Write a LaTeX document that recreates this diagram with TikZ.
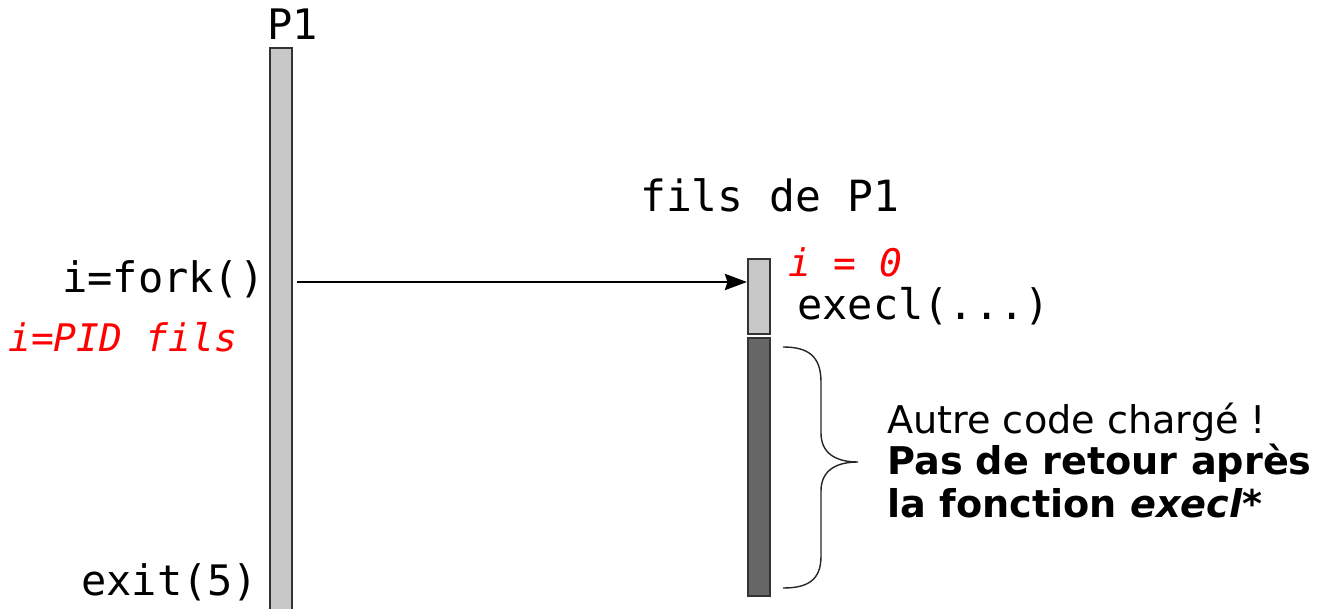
\documentclass[tikz,border=0pt]{standalone}
\usepackage{fontspec}
\setmainfont{DejaVu Sans}
\newfontfamily\monof{DejaVu Sans Mono}
\usetikzlibrary{arrows.meta}
\definecolor{lightbar}{HTML}{C8C8C8}
\definecolor{darkbar}{HTML}{666666}
\definecolor{barline}{HTML}{333333}
\definecolor{redtxt}{HTML}{FF0000}
\tikzset{
  bar/.style={draw=barline, line width=1.8pt, inner sep=0pt, anchor=north west, minimum width=22pt},
  lbar/.style={bar, fill=lightbar},
  dbar/.style={bar, fill=darkbar},
  mono/.style={font=\monof\fontsize{42}{46}\selectfont, inner sep=0pt, anchor=base west},
  redmono/.style={font=\monof\itshape\fontsize{38}{42}\selectfont, text=redtxt, inner sep=0pt, anchor=base west},
  note/.style={font=\fontsize{38.2}{40}\selectfont, inner sep=0pt, anchor=base west, align=left},
  boldnote/.style={note, font=\bfseries\fontsize{38.2}{40}\selectfont},
  arrowline/.style={line width=2.8pt, arrows={-Stealth[length=22pt,width=16pt,inset=2.5pt]}},
  bracel/.style={line width=1.4pt, draw=black!85}
}
\begin{document}
\begin{tikzpicture}[x=1pt,y=-1pt]
\useasboundingbox (0,0) rectangle (1328,609);
% bars
\node[lbar, minimum height=568pt] (p1bar) at (269,47) {};
\node[lbar, minimum height=75pt] (cbar) at (747,258) {};
\node[dbar, minimum height=258pt] (dbar) at (747,337) {};
% labels
\node[mono] (p1lbl) at (267,40) {P1};
\node[mono] (fork) at (62,293) {i=fork()};
\node[redmono] (pid) at (8,352) {i=PID fils};
\node[mono] (exit) at (81,595) {exit(5)};
\node[mono, font=\monof\fontsize{43}{46}\selectfont] (fils) at (640,212) {fils de P1};
\node[redmono] (izero) at (788,277) {i = 0};
\node[mono] (execl) at (797,320) {execl(...)};
\node[note] (autre) at (887,433) {Autre code chargé !};
\node[boldnote] (pas) at (887,474) {Pas de retour après};
\node[boldnote] (lafn) at (887,517) {la fonction \textit{execl}*};
% arrow
\coordinate (forky) at (0,282);
\draw[arrowline, shorten <=4pt] (p1bar.east |- forky) -- (cbar.west |- forky);
% brace
\coordinate (btop) at (783,347);
\coordinate (btip) at (858,462);
\coordinate (bbot) at (783,588);
\draw[bracel] (btop) .. controls (808,347) and (821,356) .. (821,382)
  -- (821,433) .. controls (821,452) and (834,462) .. (btip)
  .. controls (834,462) and (821,472) .. (821,491)
  -- (821,556) .. controls (821,580) and (808,588) .. (bbot);
\end{tikzpicture}
\end{document}
